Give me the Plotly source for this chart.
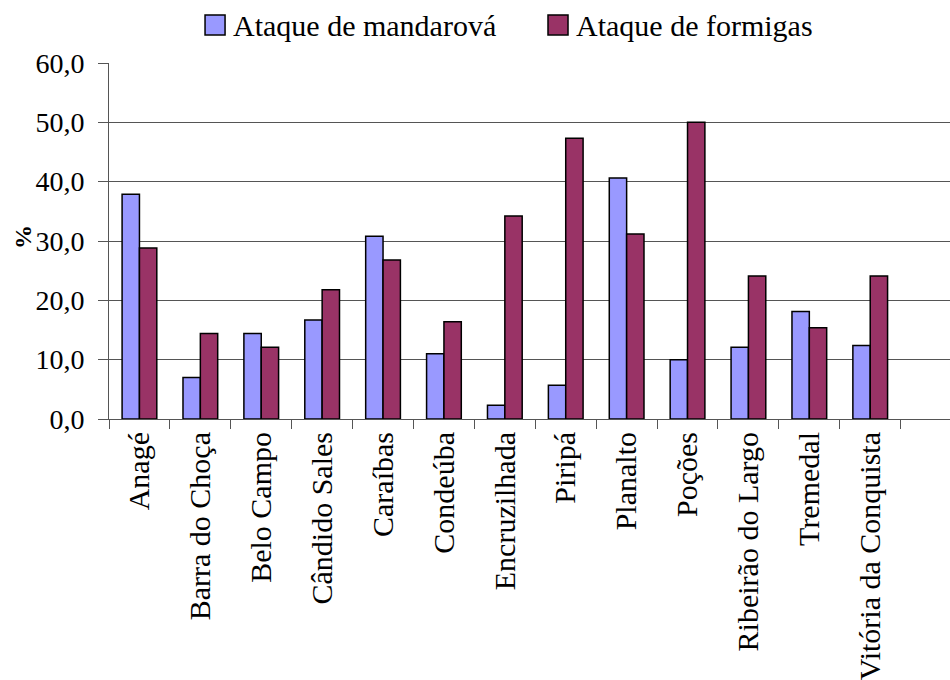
import plotly.graph_objects as go

municipios = ["Anagé", "Barra do Choça", "Belo Campo", "Cândido Sales", "Caraíbas",
              "Condeúba", "Encruzilhada", "Piripá", "Planalto", "Poções",
              "Ribeirão do Largo", "Tremedal", "Vitória da Conquista"]
mandarova = [37.9, 7.0, 14.4, 16.7, 30.8, 11.0, 2.3, 5.7, 40.6, 10.0, 12.1, 18.1, 12.4]
formigas = [28.8, 14.4, 12.1, 21.8, 26.8, 16.4, 34.2, 47.3, 31.2, 50.0, 24.1, 15.4, 24.1]
y_ticks = [0, 10, 20, 30, 40, 50, 60]

series = [("Ataque de mandarová", mandarova, "#9999FF"),
          ("Ataque de formigas", formigas, "#993366")]

fonte = "Liberation Serif"

fig = go.Figure()
for nome, valores, cor in series:
    fig.add_trace(go.Bar(x=municipios, y=valores, name=nome, showlegend=False,
                         marker=dict(color=cor, line=dict(color="black", width=1.5))))

# legenda desenhada à mão (quadrados maiores, como no Excel)
leg_x = [0.1142, 0.5220]
shapes = []
annotations = []
for (nome, _, cor), x0 in zip(series, leg_x):
    shapes.append(dict(type="rect", xref="paper", yref="paper",
                       x0=x0, x1=x0 + 0.0238, y0=1.079, y1=1.135,
                       fillcolor=cor, line=dict(color="black", width=1.5)))
    annotations.append(dict(text=nome, xref="paper", yref="paper",
                            x=x0 + 0.031, y=1.104, xanchor="left", yanchor="middle",
                            showarrow=False, font=dict(family=fonte, size=30)))

annotations.append(dict(text="<b>%</b>", x=-0.1023, y=0.511, xref="paper", yref="paper",
                        xanchor="center", yanchor="middle", textangle=-90,
                        showarrow=False, font=dict(family=fonte, size=24)))

fig.update_layout(
    width=950, height=680,
    paper_bgcolor="white", plot_bgcolor="white",
    margin=dict(l=109, r=0, t=63, b=261),
    barmode="group", bargap=0.43, bargroupgap=0,
    separators=",.",
    font=dict(family=fonte, size=27, color="black"),
    shapes=shapes,
    annotations=annotations,
)
fig.update_xaxes(
    type="category", range=[-0.5, 13.31], tickangle=-90,
    ticks="outside", tickson="boundaries", ticklen=9, tickcolor="#555",
    showline=True, linecolor="#555", linewidth=1, showgrid=False,
    tickfont=dict(family=fonte, size=30), automargin=False,
)
fig.update_yaxes(
    range=[0, 60], tickvals=y_ticks, tickformat=".1f",
    ticks="outside", ticklen=10, tickcolor="#555", ticklabelstandoff=8,
    showline=True, linecolor="#555", linewidth=1,
    showgrid=True, gridcolor="#555", gridwidth=1, zeroline=False,
    tickfont=dict(family=fonte, size=28), automargin=False,
)

fig.write_html("out.html", config={"displayModeBar": False},
               post_script="document.body.style.margin='0';")
